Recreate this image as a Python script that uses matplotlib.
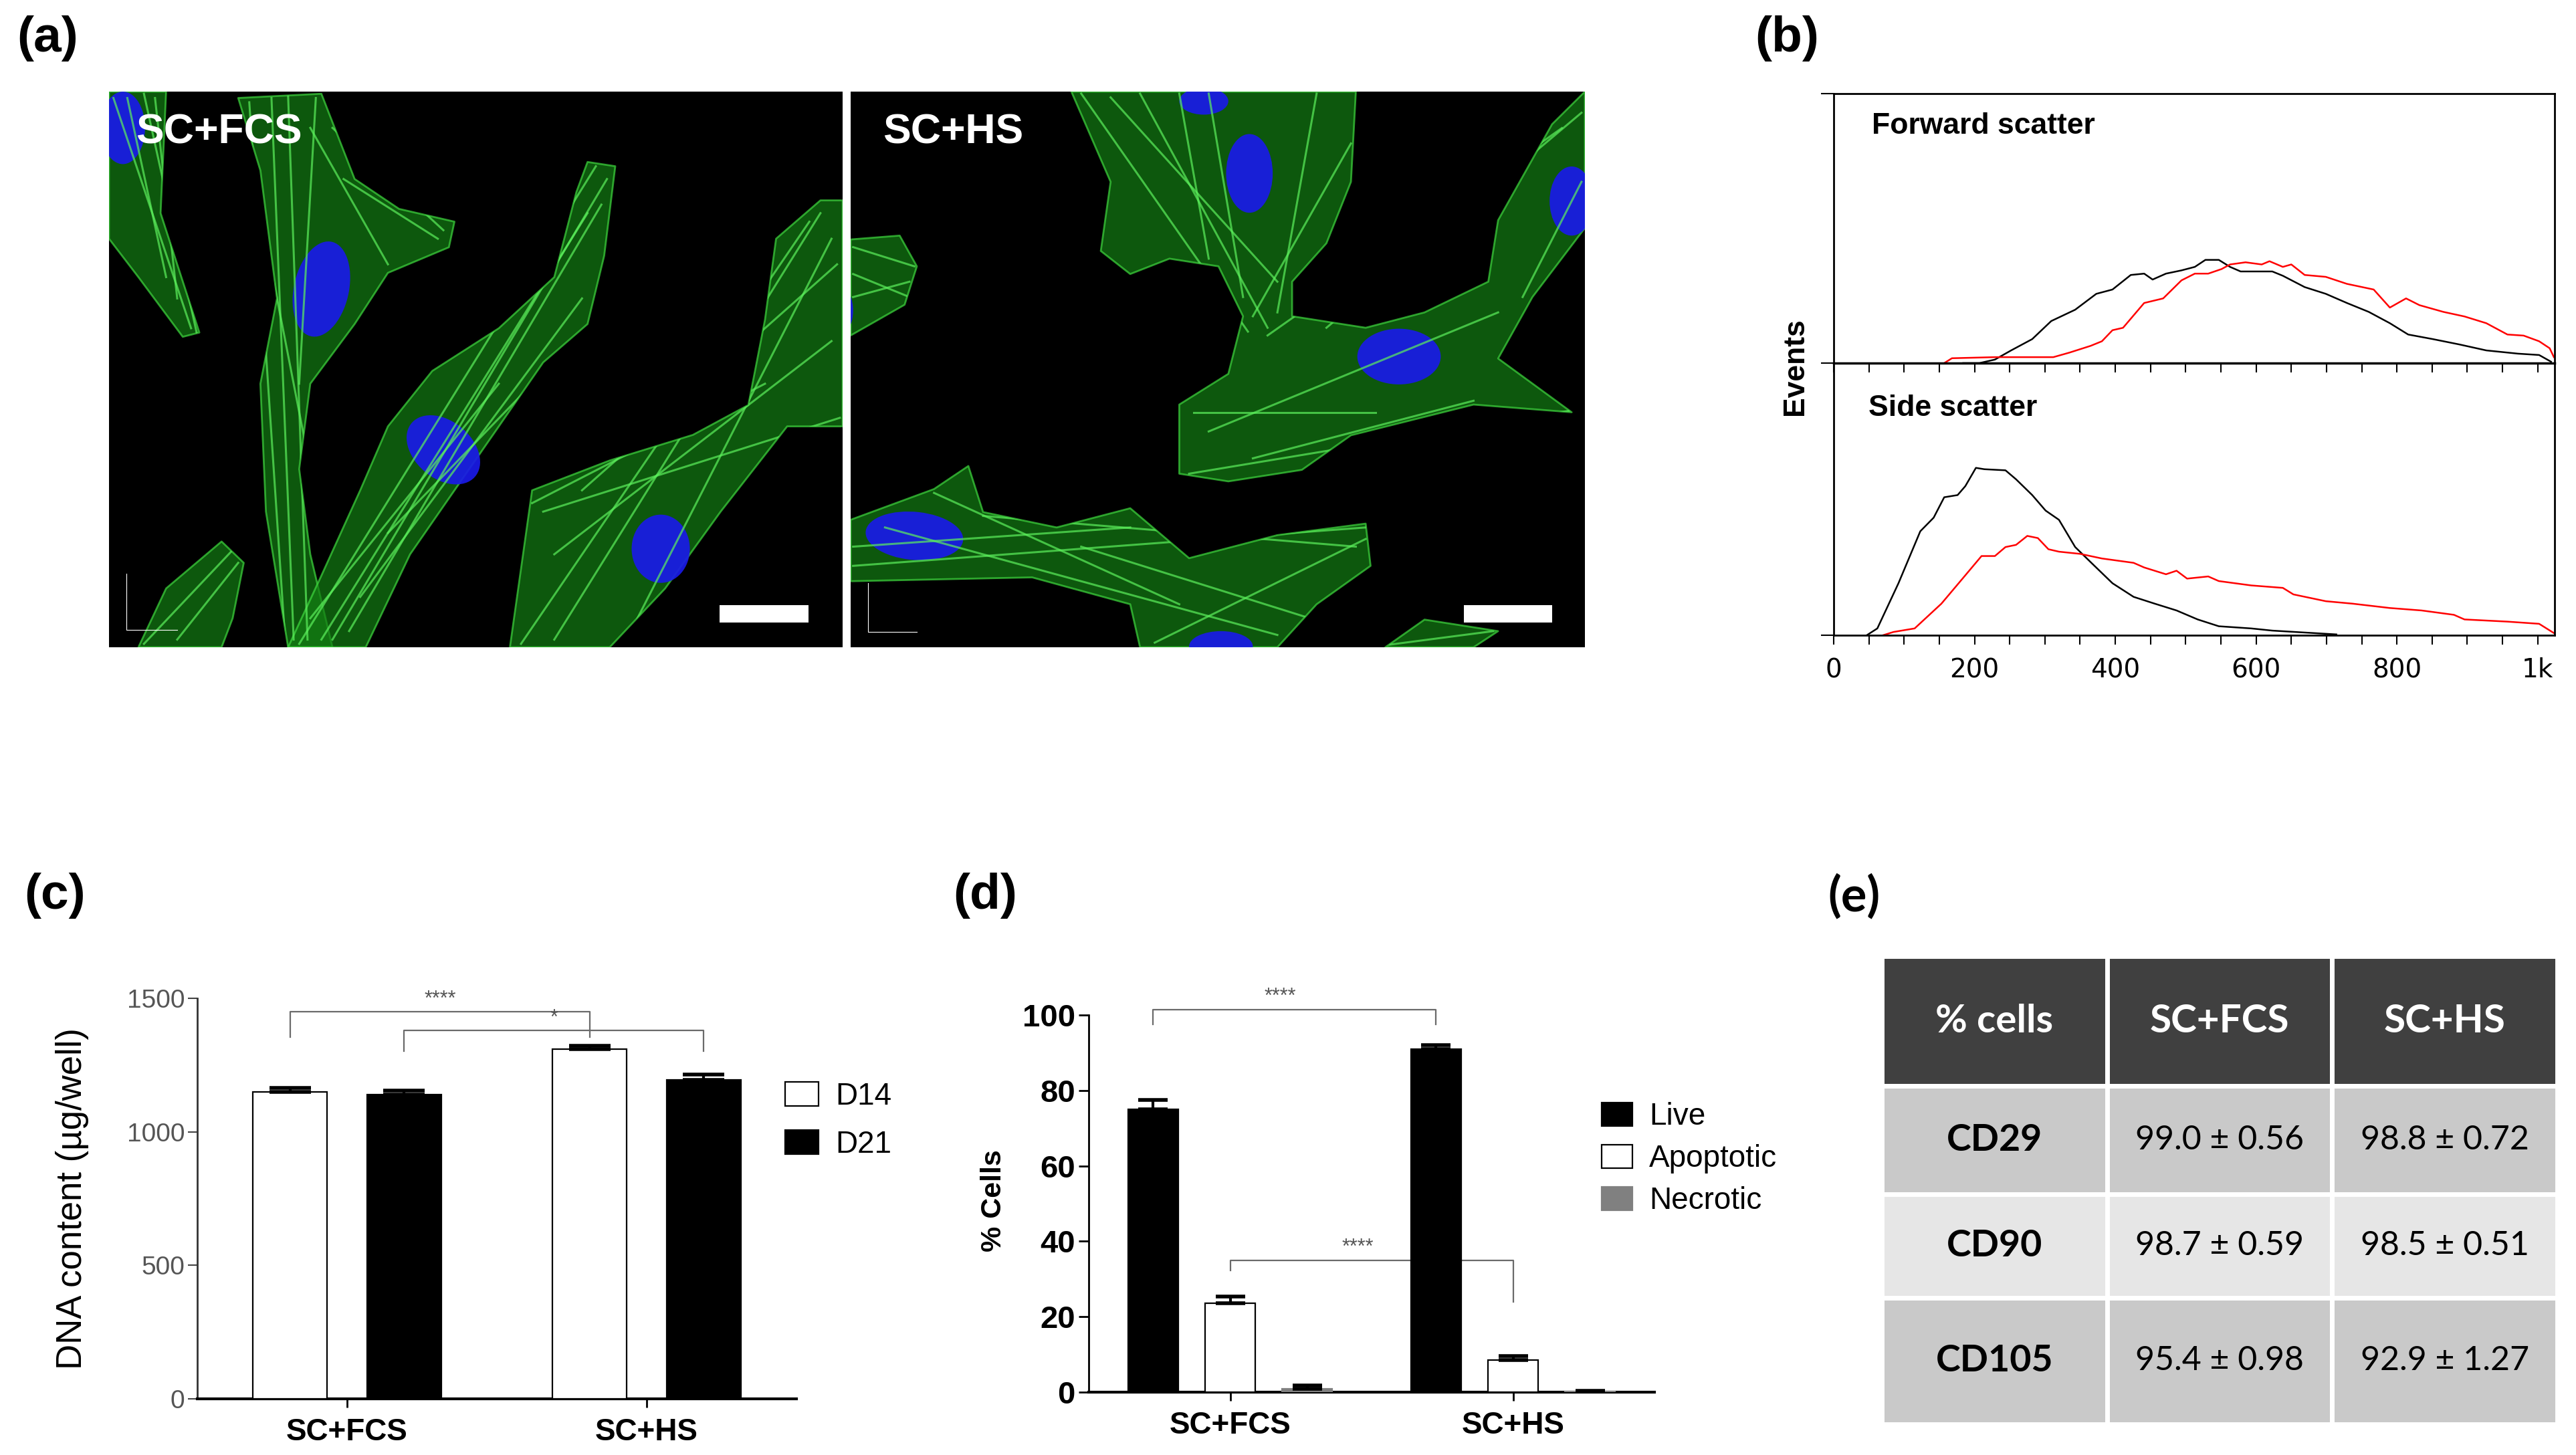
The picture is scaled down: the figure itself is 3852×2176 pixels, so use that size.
import matplotlib.pyplot as plt
import matplotlib
import numpy as np
from matplotlib.patches import Polygon, Ellipse, Rectangle, Patch

W, H = 3852, 2176
DPI = 100

matplotlib.rcParams.update({
    'font.family': 'Liberation Sans',
    'axes.linewidth': 2.0,
})

# ============================================================
# DATA
# ============================================================
# (b) flow cytometry histograms: channel vs relative event height
fsc_black_x = [184, 207, 229, 252, 282, 309, 343, 373, 396, 422, 441, 453, 472, 494, 513, 528,
               547, 563, 578, 623, 638, 669, 699, 729, 760, 790, 816, 851, 889, 927, 972, 1002, 1019]
fsc_black_y = [0, 0, 0.013, 0.047, 0.089, 0.156, 0.198, 0.257, 0.273, 0.327, 0.332, 0.31, 0.332,
               0.344, 0.357, 0.383, 0.383, 0.357, 0.34, 0.34, 0.324, 0.282, 0.257, 0.223, 0.19,
               0.148, 0.106, 0.089, 0.069, 0.047, 0.035, 0.03, 0.005]
fsc_red_x = [157, 168, 229, 312, 335, 365, 381, 396, 411, 441, 468, 494, 513, 532, 551, 563, 585,
             608, 619, 638, 650, 669, 699, 729, 767, 790, 813, 832, 866, 896, 927, 957, 980, 1002,
             1017, 1023]
fsc_red_y = [0, 0.018, 0.022, 0.022, 0.039, 0.064, 0.081, 0.122, 0.131, 0.223, 0.24, 0.307, 0.332,
             0.332, 0.349, 0.366, 0.374, 0.366, 0.378, 0.357, 0.366, 0.327, 0.32, 0.294, 0.273,
             0.206, 0.24, 0.215, 0.19, 0.173, 0.148, 0.106, 0.102, 0.081, 0.055, 0.022]
ssc_black_x = [47, 62, 92, 123, 142, 157, 176, 187, 202, 214, 244, 259, 282, 301, 320, 343, 366,
               396, 426, 456, 487, 517, 547, 593, 623, 714]
ssc_black_y = [0, 0.025, 0.191, 0.382, 0.432, 0.507, 0.515, 0.548, 0.615, 0.61, 0.606, 0.573,
               0.515, 0.458, 0.424, 0.324, 0.266, 0.191, 0.141, 0.116, 0.091, 0.058, 0.033, 0.025,
               0.017, 0.003]
ssc_red_x = [70, 85, 115, 153, 183, 210, 229, 244, 259, 275, 290, 305, 320, 350, 381, 426, 441,
             472, 487, 502, 532, 547, 593, 638, 653, 699, 737, 790, 835, 881, 896, 957, 1002, 1023]
ssc_red_y = [0, 0.012, 0.025, 0.116, 0.208, 0.291, 0.291, 0.324, 0.332, 0.365, 0.357, 0.316,
             0.307, 0.299, 0.282, 0.266, 0.249, 0.224, 0.237, 0.208, 0.216, 0.199, 0.183, 0.174,
             0.15, 0.125, 0.116, 0.1, 0.091, 0.075, 0.058, 0.05, 0.042, 0.008]
flow_ticks = [0, 200, 400, 600, 800, 1000]
flow_tick_labels = ['0', '200', '400', '600', '800', '1k']

# (c) DNA content
groups = ['SC+FCS', 'SC+HS']
dna_d14 = [1150, 1310]
dna_d14_err = [15, 12]
dna_d21 = [1140, 1195]
dna_d21_err = [15, 20]

# (d) viability
live = [75.0, 91.0]
live_err = [2.5, 1.0]
apoptotic = [23.5, 8.5]
apoptotic_err = [1.8, 1.0]
necrotic = [0.8, 0.2]
necrotic_err = [1.0, 0.1]

# (e) surface markers
markers = ['CD29', 'CD90', 'CD105']
fcs_mean = [99.0, 98.7, 95.4]
fcs_sd = [0.56, 0.59, 0.98]
hs_mean = [98.8, 98.5, 92.9]
hs_sd = [0.72, 0.51, 1.27]

fig = plt.figure(figsize=(W / DPI, H / DPI), dpi=DPI)


def px_axes(x0, y0, x1, y1):
    return fig.add_axes([x0 / W, 1 - y1 / H, (x1 - x0) / W, (y1 - y0) / H])


def fig_text(x, y, s, **kw):
    fig.text(x / W, 1 - y / H, s, **kw)


# ============================================================
# (a) Fluorescence micrographs (schematic)
# ============================================================
left_cells = [
    [(197, 215), (300, 215), (290, 500), (340, 700), (360, 780), (330, 790), (250, 650), (197, 560)],
    [(430, 230), (580, 220), (640, 420), (720, 490), (820, 520), (810, 580), (700, 640), (640, 760),
     (560, 900), (540, 1100), (560, 1300), (600, 1518), (520, 1518), (480, 1200), (470, 900),
     (500, 700), (470, 400)],
    [(520, 1518), (580, 1350), (650, 1150), (700, 1000), (780, 870), (900, 770), (1000, 650),
     (1040, 450), (1060, 380), (1110, 390), (1090, 600), (1060, 760), (980, 850), (900, 1000),
     (820, 1150), (740, 1300), (660, 1518)],
    [(920, 1518), (960, 1150), (1100, 1080), (1250, 1020), (1350, 950), (1380, 750), (1400, 560),
     (1480, 470), (1520, 470), (1520, 1000), (1420, 1000), (1300, 1200), (1200, 1380), (1100, 1518)],
    [(250, 1518), (300, 1380), (400, 1270), (440, 1320), (420, 1450), (400, 1518)],
]
left_fibers = [
    [[(205, 230), (345, 770)], [(230, 230), (300, 650)], [(260, 220), (355, 780)],
     [(280, 230), (320, 700)]],
    [[(450, 240), (515, 1510)], [(520, 225), (555, 1500)], [(570, 230), (540, 900)],
     [(600, 300), (800, 540)], [(470, 500), (590, 1300)], [(490, 230), (530, 1500)],
     [(620, 420), (790, 560)], [(560, 300), (700, 620)]],
    [[(540, 1510), (1075, 390)], [(600, 1500), (1095, 420)], [(650, 1400), (1050, 700)],
     [(560, 1450), (900, 900)], [(700, 1250), (1020, 820)], [(580, 1500), (1060, 500)],
     [(630, 1480), (1085, 480)]],
    [[(940, 1510), (1460, 520)], [(980, 1200), (1515, 980)], [(1000, 1300), (1500, 800)],
     [(1150, 1450), (1500, 560)], [(960, 1180), (1380, 900)], [(1000, 1500), (1480, 500)],
     [(1050, 1150), (1510, 620)]],
    [[(260, 1510), (420, 1290)], [(320, 1500), (430, 1320)]],
]
left_nuclei = [((580, 678), 100, 225, 8), ((800, 1055), 115, 175, -30),
               ((1192, 1287), 105, 160, 0), ((222, 300), 80, 170, 0)]

right_cells = [
    [(480, 65), (1060, 65), (1050, 300), (1000, 460), (930, 560), (930, 650), (1080, 680),
     (1200, 640), (1330, 560), (1350, 400), (1460, 150), (1527, 65), (1527, 420), (1420, 600),
     (1350, 760), (1500, 900), (1300, 880), (1050, 960), (950, 1050), (800, 1080), (700, 1060),
     (700, 880), (800, 800), (830, 650), (780, 520), (680, 500), (600, 540), (540, 480), (560, 300)],
    [(30, 450), (130, 440), (165, 520), (140, 620), (30, 700)],
    [(30, 1180), (200, 1100), (270, 1040), (300, 1160), (450, 1200), (600, 1150), (720, 1280),
     (900, 1220), (1080, 1190), (1090, 1300), (980, 1400), (900, 1512), (620, 1512), (600, 1400),
     (400, 1330), (30, 1340)],
    [(1120, 1512), (1200, 1440), (1350, 1470), (1300, 1512)],
]
right_fibers = [
    [[(500, 70), (840, 690)], [(620, 70), (880, 680)], [(760, 70), (830, 600)],
     [(980, 70), (900, 640)], [(1050, 200), (850, 650)], [(720, 1060), (1500, 895)],
     [(760, 950), (1350, 640)], [(880, 700), (1480, 160)], [(1000, 680), (1520, 120)],
     [(730, 900), (1100, 900)], [(850, 1020), (1300, 870)], [(560, 80), (900, 560)],
     [(700, 70), (760, 500)], [(1400, 600), (1520, 300)]],
    [[(35, 470), (160, 520)], [(35, 600), (150, 560)], [(35, 540), (150, 600)]],
    [[(35, 1300), (1080, 1200)], [(100, 1200), (900, 1480)], [(300, 1170), (1060, 1250)],
     [(500, 1250), (1000, 1450)], [(35, 1250), (600, 1200)], [(200, 1110), (700, 1400)],
     [(650, 1500), (1080, 1230)]],
    [[(1130, 1505), (1340, 1470)]],
]
right_nuclei = [((843, 278), 95, 205, 0), ((1148, 755), 170, 145, 0), ((1500, 350), 90, 180, 0),
                ((160, 1222), 200, 125, 8), ((785, 1510), 130, 80, 0), ((750, 90), 100, 70, 0),
                ((15, 635), 40, 110, 0)]


def draw_micrograph(rect, xlim, ylim, cells, fibers, nuclei, label, label_xy, bar, corner):
    ax = px_axes(*rect)
    ax.set_facecolor('black')
    ax.set_xlim(*xlim)
    ax.set_ylim(*ylim)
    ax.set_xticks([])
    ax.set_yticks([])
    for s in ax.spines.values():
        s.set_visible(False)
    for cell, fib in zip(cells, fibers):
        poly = Polygon(cell, closed=True, facecolor='#137f13', alpha=0.7,
                       edgecolor='#3fd83f', lw=2.0, joinstyle='round')
        ax.add_patch(poly)
        for seg in fib:
            xs, ys = zip(*seg)
            ln, = ax.plot(xs, ys, color='#5cf05c', lw=2.2, alpha=0.7)
            ln.set_clip_path(poly)
    for (cx, cy), w, h, ang in nuclei:
        ax.add_patch(Ellipse((cx, cy), w, h, angle=ang, facecolor='#1a1ae8',
                             edgecolor='none', alpha=0.92))
    ax.text(label_xy[0], label_xy[1], label, color='white', fontsize=45,
            fontweight='bold', ha='left', va='top')
    ax.add_patch(Rectangle((bar[0], bar[1]), bar[2], bar[3], facecolor='white', edgecolor='none'))
    cx0, cy0, cx1, cy1 = corner
    ax.plot([cx0, cx0, cx1], [cy1, cy0, cy0], color='white', lw=0.8)
    return ax


draw_micrograph((163, 137, 1260, 968), (197, 1520), (1518, 215), left_cells, left_fibers,
                left_nuclei, 'SC+FCS', (245, 265), (1298, 1420, 160, 40), (228, 1478, 320, 1345))
draw_micrograph((1272, 137, 2370, 968), (30, 1527), (1512, 65), right_cells, right_fibers,
                right_nuclei, 'SC+HS', (95, 120), (1280, 1403, 180, 44), (65, 1472, 165, 1345))

# ============================================================
# (b) Flow cytometry scatter histograms
# ============================================================
ax_f = px_axes(2742, 140, 3820, 543)
ax_s = px_axes(2742, 543, 3820, 950)
ax_s.patch.set_visible(False)
for ax, bx, by, rx, ry in [(ax_f, fsc_black_x, fsc_black_y, fsc_red_x, fsc_red_y),
                           (ax_s, ssc_black_x, ssc_black_y, ssc_red_x, ssc_red_y)]:
    ax.plot(bx, by, color='black', lw=1.8)
    ax.plot(rx, ry, color='#ff0000', lw=1.8)
    ax.set_xlim(0, 1024)
    ax.set_ylim(0, 1)
    ax.set_xticks(flow_ticks)
    ax.set_xticks(range(0, 1025, 50), minor=True)
    ax.tick_params(axis='x', which='both', direction='out', length=10, width=1.5)
    ax.tick_params(axis='y', direction='out', length=14, width=1.5, labelleft=False)
    for s in ax.spines.values():
        s.set_linewidth(2.0)
ax_f.set_yticks([0, 1])
ax_s.set_yticks([0])
ax_f.tick_params(axis='x', labelbottom=False)
ax_f.spines['bottom'].set_linewidth(2.5)
ax_s.spines['top'].set_visible(False)
ax_s.set_xticklabels(flow_tick_labels, fontsize=28, family='DejaVu Sans')
ax_s.tick_params(axis='x', pad=14)
ax_f.text(0.053, 0.93, 'Forward scatter', transform=ax_f.transAxes, fontsize=32,
          fontweight='bold', va='top', ha='left')
ax_s.text(0.048, 0.885, 'Side scatter', transform=ax_s.transAxes, fontsize=32,
          fontweight='bold', va='top', ha='left')
fig_text(2684, 548, 'Events', rotation=90, fontsize=32, fontweight='bold', ha='center', va='center')

# ============================================================
# (c) DNA content
# ============================================================
x = np.arange(len(groups))
off_c, w_c = 0.19, 0.248
ax_c = px_axes(295, 1493, 1191, 2092)
b14 = ax_c.bar(x - off_c, dna_d14, w_c, color='white', edgecolor='black', lw=1.6, zorder=3)
b21 = ax_c.bar(x + off_c, dna_d21, w_c, color='black', edgecolor='black', lw=1.6, zorder=3)
ax_c.errorbar(x - off_c, dna_d14, yerr=[np.zeros(2), dna_d14_err], fmt='none', ecolor='black',
              elinewidth=3, capsize=22, capthick=4, zorder=4)
ax_c.errorbar(x + off_c, dna_d21, yerr=[np.zeros(2), dna_d21_err], fmt='none', ecolor='black',
              elinewidth=3, capsize=22, capthick=4, zorder=4)
ax_c.set_xlim(-0.5, 1.5)
ax_c.set_ylim(0, 1500)
ax_c.set_yticks([0, 500, 1000, 1500])
ax_c.set_xticks(x)
ax_c.set_xticklabels(groups, fontsize=33, fontweight='bold')
ax_c.tick_params(axis='y', labelsize=28, labelcolor='#555555', length=10, width=1.5, color='#444444')
ax_c.tick_params(axis='x', length=9, width=2, pad=11)
ax_c.spines['top'].set_visible(False)
ax_c.spines['right'].set_visible(False)
ax_c.spines['bottom'].set_linewidth(3)
ax_c.spines['left'].set_color('#333333')

# significance brackets
for x1, x2, yb, l1, l2, lab in [(-off_c, 1 - off_c, 1450, 1355, 1355, '****'),
                                (off_c, 1 + off_c, 1380, 1302, 1302, '*')]:
    ax_c.plot([x1, x1, x2, x2], [l1, yb, yb, l2], color='#6a6a6a', lw=1.6, zorder=2)
    ax_c.text((x1 + x2) / 2, yb + 8, lab, ha='center', va='bottom', fontsize=22, color='#555555')

fig_text(108, 1793, 'DNA content (µg/well)', rotation=90, fontsize=38, ha='center', va='center')
ax_c.legend([b14, b21], ['D14', 'D21'], loc='upper left', bbox_to_anchor=(1174 / W, 1 - 1618 / H),
            bbox_transform=fig.transFigure, frameon=False, fontsize=33, handlelength=1.1,
            handleheight=0.84, handletextpad=0.55, labelspacing=0.6, borderpad=0,
            borderaxespad=0)

# ============================================================
# (d) Live / apoptotic / necrotic
# ============================================================
off_d, w_d = 0.272, 0.177
ax_d = px_axes(1628, 1518, 2474, 2082)
bl = ax_d.bar(x - off_d, live, w_d, color='black', edgecolor='black', lw=1.6, zorder=3)
ba = ax_d.bar(x, apoptotic, w_d, color='white', edgecolor='black', lw=1.6, zorder=3)
bn = ax_d.bar(x + off_d, necrotic, w_d, color='#808080', edgecolor='#808080', lw=1.6, zorder=3)
for xs, vals, errs in [(x - off_d, live, live_err), (x, apoptotic, apoptotic_err),
                       (x + off_d, necrotic, necrotic_err)]:
    ax_d.errorbar(xs, vals, yerr=[np.zeros(2), errs], fmt='none', ecolor='black',
                  elinewidth=3, capsize=16, capthick=4, zorder=4)
ax_d.set_xlim(-0.5, 1.5)
ax_d.set_ylim(0, 100)
ax_d.set_yticks(range(0, 101, 20))
ax_d.set_xticks(x)
ax_d.set_xticklabels(groups, fontsize=33, fontweight='bold')
for t in ax_d.get_yticklabels():
    t.set_fontweight('bold')
ax_d.tick_params(axis='y', labelsize=34, length=11, width=2)
ax_d.tick_params(axis='x', length=9, width=2, pad=11)
ax_d.spines['top'].set_visible(False)
ax_d.spines['right'].set_visible(False)
ax_d.spines['bottom'].set_linewidth(3)

for x1, x2, yb, l1, l2 in [(-off_d, 1 - off_d, 101.4, 97.5, 97.5),
                           (0, 1, 34.9, 32.3, 23.9)]:
    ax_d.plot([x1, x1, x2, x2], [l1, yb, yb, l2], color='#6a6a6a', lw=1.6, zorder=2, clip_on=False)
    ax_d.text((x1 + x2) / 2 - 0.05, yb + 0.8, '****', ha='center', va='bottom', fontsize=22,
              color='#555555', clip_on=False)

fig_text(1486, 1796, '% Cells', rotation=90, fontsize=31, fontweight='bold', ha='center', va='center')
ax_d.legend([bl, ba, bn], ['Live', 'Apoptotic', 'Necrotic'], loc='upper left',
            bbox_to_anchor=(2395 / W, 1 - 1648 / H), bbox_transform=fig.transFigure,
            frameon=False, fontsize=33, handlelength=1.0, handleheight=0.8, handletextpad=0.55,
            labelspacing=0.42, borderpad=0, borderaxespad=0)

# ============================================================
# (e) Surface marker table
# ============================================================
ax_e = px_axes(2814, 1430, 3824, 2130)
ax_e.axis('off')
cell_text = [[m, f'{a:.1f} ± {b:.2f}', f'{c:.1f} ± {d:.2f}']
             for m, a, b, c, d in zip(markers, fcs_mean, fcs_sd, hs_mean, hs_sd)]
row_colors = ['#c9c9c9', '#e6e6e6', '#c9c9c9']
tbl = ax_e.table(cellText=cell_text, colLabels=['% cells', 'SC+FCS', 'SC+HS'],
                 cellColours=[[c] * 3 for c in row_colors], colColours=['#404040'] * 3,
                 cellLoc='center', bbox=[0, 0, 1, 1])
tbl.auto_set_font_size(False)
row_heights = [0.277, 0.231, 0.221, 0.27]
for (r, c), cell in tbl.get_celld().items():
    cell.set_edgecolor('white')
    cell.set_linewidth(5)
    cell.set_height(row_heights[r])
    cell.set_width(1 / 3)
    txt = cell.get_text()
    txt.set_fontfamily('Lato')
    if r == 0:
        txt.set_color('white')
        txt.set_fontweight('bold')
        txt.set_fontsize(42)
    elif c == 0:
        txt.set_fontweight('bold')
        txt.set_fontsize(40)
    else:
        txt.set_fontsize(36)

# ============================================================
# Panel labels
# ============================================================
for lx, ly, lab in [(25, 57, '(a)'), (2624, 57, '(b)'), (36, 1340, '(c)'), (1425, 1340, '(d)')]:
    fig_text(lx, ly, lab, fontsize=54, fontweight='bold', ha='left', va='center')
fig_text(2733, 1341, '(e)', fontsize=52, fontweight='bold', family='Lato', ha='left', va='center')

plt.savefig('out.png', dpi=DPI)
plt.close()
print('Saved out.png')
